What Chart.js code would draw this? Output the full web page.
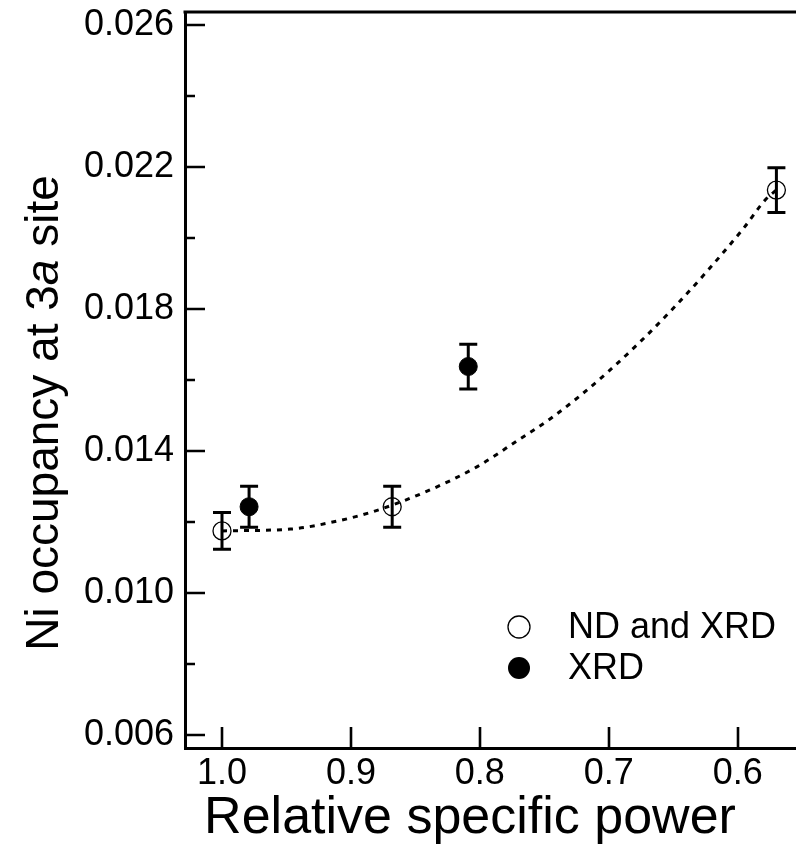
<!DOCTYPE html>
<html>
<head>
<meta charset="utf-8">
<script src="https://cdn.jsdelivr.net/npm/chart.js@4/dist/chart.umd.min.js"></script>
<style>
  html, body { margin: 0; padding: 0; background: #fff; }
  #wrap { width: 796px; height: 861px; }
</style>
</head>
<body>
<div id="wrap"><canvas id="c" width="796" height="861"></canvas></div>
<script>
// Ni occupancy at the 3a site versus relative specific power
const ndPower = [1.000, 0.868, 0.570];
const ndOcc   = [0.01175, 0.01243, 0.02135];
const ndErr   = [0.00052, 0.00058, 0.00063];

const xrdPower = [0.979, 0.809];
const xrdOcc   = [0.01243, 0.01638];
const xrdErr   = [0.00058, 0.00063];

// dotted trend line through the ND and XRD points
const fitPower = [1.000, 0.947, 0.909, 0.883, 0.844, 0.802, 0.771, 0.743, 0.700, 0.650, 0.596, 0.578, 0.570];
const fitOcc   = [0.01175, 0.01180, 0.01204, 0.01229, 0.01282, 0.01356, 0.01429, 0.01497, 0.01625, 0.01802, 0.02025, 0.02110, 0.02135];

const xTicks = [1.0, 0.9, 0.8, 0.7, 0.6];
const yMajorTicks = [0.006, 0.010, 0.014, 0.018, 0.022, 0.026];

const FONT = '"Liberation Sans", Arial, sans-serif';

const pts = (xs, ys) => xs.map((x, i) => ({ x: x, y: ys[i] }));

const errorBars = {
  id: 'errorBars',
  beforeDatasetsDraw(chart) {
    const { ctx, scales: { x, y } } = chart;
    const groups = [[ndPower, ndOcc, ndErr], [xrdPower, xrdOcc, xrdErr]];
    ctx.save();
    ctx.strokeStyle = '#000';
    ctx.lineWidth = 3;
    ctx.lineCap = 'butt';
    groups.forEach(([xs, ys, es]) => {
      xs.forEach((v, i) => {
        const px = x.getPixelForValue(v);
        const top = y.getPixelForValue(ys[i] + es[i]);
        const bot = y.getPixelForValue(ys[i] - es[i]);
        ctx.beginPath();
        ctx.moveTo(px, top); ctx.lineTo(px, bot);
        ctx.moveTo(px - 9, top); ctx.lineTo(px + 9, top);
        ctx.moveTo(px - 9, bot); ctx.lineTo(px + 9, bot);
        ctx.stroke();
      });
    });
    ctx.restore();
  }
};

const decorations = {
  id: 'decorations',
  afterDraw(chart) {
    const { ctx, chartArea: a, scales: { x, y } } = chart;
    ctx.save();
    ctx.strokeStyle = '#000';
    ctx.fillStyle = '#000';

    // top frame line
    ctx.lineWidth = 3;
    ctx.beginPath();
    ctx.moveTo(a.left - 1.5, a.top);
    ctx.lineTo(a.right, a.top);
    ctx.stroke();

    // inward tick marks
    ctx.lineWidth = 2.6;
    ctx.beginPath();
    xTicks.forEach(v => {
      const px = Math.round(x.getPixelForValue(v));
      ctx.moveTo(px, a.bottom); ctx.lineTo(px, a.bottom - 21);
    });
    y.ticks.forEach(t => {
      const py = Math.round(y.getPixelForValue(t.value));
      const major = yMajorTicks.some(m => Math.abs(m - t.value) < 1e-6);
      ctx.moveTo(a.left, py); ctx.lineTo(a.left + (major ? 20 : 10), py);
    });
    ctx.stroke();

    // x axis title
    ctx.font = '52px ' + FONT;
    ctx.textAlign = 'center';
    ctx.textBaseline = 'alphabetic';
    ctx.fillText('Relative specific power', 470, 833);

    // y axis title with italic site letter
    const parts = [
      { t: 'Ni occupancy at 3', f: '46px ' + FONT },
      { t: 'a', f: 'italic 46px ' + FONT },
      { t: ' site', f: '46px ' + FONT }
    ];
    let total = 0;
    parts.forEach(p => { ctx.font = p.f; p.w = ctx.measureText(p.t).width; total += p.w; });
    ctx.translate(58, 413);
    ctx.rotate(-Math.PI / 2);
    ctx.textAlign = 'left';
    let cx = -total / 2;
    parts.forEach(p => { ctx.font = p.f; ctx.fillText(p.t, cx, 0); cx += p.w; });
    ctx.setTransform(1, 0, 0, 1, 0, 0);

    // legend
    const items = [
      { label: 'ND and XRD', fill: false, cy: 627 },
      { label: 'XRD', fill: true, cy: 668 }
    ];
    ctx.font = '36px ' + FONT;
    ctx.textAlign = 'left';
    ctx.textBaseline = 'middle';
    items.forEach(it => {
      ctx.beginPath();
      ctx.arc(519, it.cy, 11, 0, Math.PI * 2);
      if (it.fill) { ctx.fill(); } else { ctx.lineWidth = 1.3; ctx.stroke(); }
      ctx.fillText(it.label, 568, it.cy + 1);
    });
    ctx.restore();
  }
};

new Chart(document.getElementById('c'), {
  type: 'scatter',
  data: {
    datasets: [
      {
        label: 'fit',
        type: 'line',
        data: pts(fitPower, fitOcc),
        borderColor: '#000',
        borderWidth: 3,
        borderDash: [5, 6],
        pointRadius: 0,
        fill: false,
        cubicInterpolationMode: 'monotone',
        order: 0
      },
      {
        label: 'ND and XRD',
        data: pts(ndPower, ndOcc),
        pointRadius: 9,
        pointBackgroundColor: 'rgba(0,0,0,0)',
        pointBorderColor: '#000',
        pointBorderWidth: 1.3,
        order: 1
      },
      {
        label: 'XRD',
        data: pts(xrdPower, xrdOcc),
        pointRadius: 9,
        pointBackgroundColor: '#000',
        pointBorderColor: '#000',
        pointBorderWidth: 1,
        order: 2
      }
    ]
  },
  options: {
    responsive: false,
    animation: false,
    events: [],
    layout: { padding: { top: 12, right: 0, left: 0, bottom: 0 }, autoPadding: false },
    plugins: { legend: { display: false }, tooltip: { enabled: false } },
    scales: {
      x: {
        type: 'linear',
        reverse: true,
        min: 0.5548,
        max: 1.0287,
        afterFit(s) { s.height = 113; s.paddingLeft = 0; s.paddingRight = 0; },
        grid: { display: false, drawTicks: false },
        border: { display: true, color: '#000', width: 3 },
        ticks: {
          stepSize: 0.1,
          includeBounds: false,
          color: '#000',
          padding: 4,
          font: { family: FONT, size: 36 },
          callback: v => v.toFixed(1)
        }
      },
      y: {
        type: 'linear',
        min: 0.005634,
        max: 0.026366,
        afterFit(s) { s.width = 185; s.paddingTop = 0; s.paddingBottom = 0; },
        grid: { display: false, drawTicks: false },
        border: { display: true, color: '#000', width: 3 },
        ticks: {
          stepSize: 0.002,
          includeBounds: false,
          color: '#000',
          padding: 11,
          font: { family: FONT, size: 36 },
          callback: v => yMajorTicks.some(m => Math.abs(m - v) < 1e-6) ? v.toFixed(3) : ''
        }
      }
    }
  },
  plugins: [errorBars, decorations]
});
</script>
</body>
</html>
